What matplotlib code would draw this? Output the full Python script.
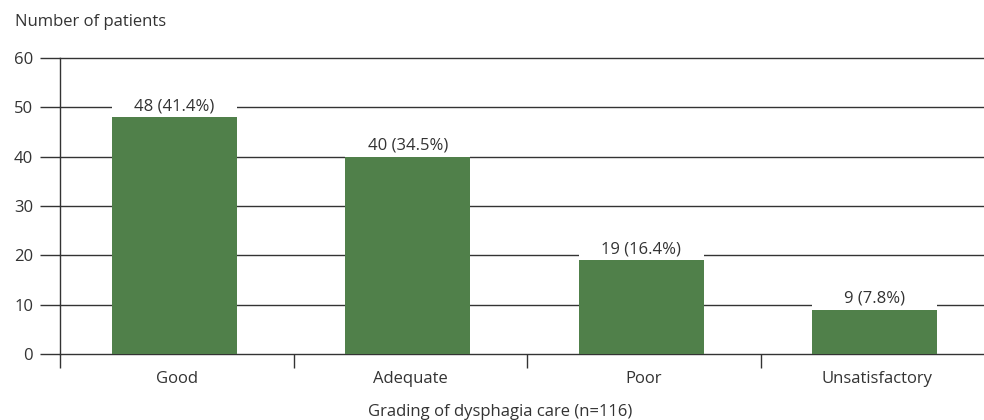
import matplotlib
matplotlib.use('Agg')
import matplotlib.pyplot as plt
import numpy as np

plt.rcParams['font.family'] = ['Open Sans', 'DejaVu Sans']

# data
categories = ['Good', 'Adequate', 'Poor', 'Unsatisfactory']
patients = [48, 40, 19, 9]
percents = [41.4, 34.5, 16.4, 7.8]

bar_color = '#50804a'
line_color = '#333333'
text_color = '#333333'
fs = 12

fig = plt.figure(figsize=(9.84, 4.2), dpi=100)
ax = fig.add_axes([60 / 984, 1 - 354 / 420, 1 - 60 / 984, (354 - 58) / 420])

x = np.arange(len(categories))
bar_w = 0.535

# gridlines
ax.set_ylim(0, 60)
ax.set_yticks(np.arange(0, 61, 10))
ax.yaxis.grid(True, color=line_color, linewidth=1.0, zorder=0)
ax.set_axisbelow(True)

ax.bar(x - 0.01, patients, width=bar_w, color=bar_color, zorder=2)
# white masks behind labels
ax.bar(x - 0.01, [4.2] * len(x), bottom=patients, width=bar_w, color='white', zorder=3)

for xi, n, p in zip(x, patients, percents):
    ax.annotate(f'{n} ({p}%)', (xi - 0.01, n), xytext=(0, 2), textcoords='offset points',
                ha='center', va='bottom', fontsize=fs, color=text_color, zorder=4)

ax.set_xlim(-0.5, -0.5 + 4 * (984 - 60) / 934)
ax.set_xticks(x)
ax.set_xticklabels(categories)
ax.set_xticks(np.arange(-0.5, 3.0, 1.0), minor=True)
ax.tick_params(axis='x', which='major', length=0, pad=12, labelsize=fs, labelcolor=text_color)
ax.tick_params(axis='x', which='minor', length=10, width=1.0, color=line_color, direction='out')
ax.tick_params(axis='y', length=14.4, width=1.0, color=line_color, pad=5,
               labelsize=fs, labelcolor=text_color)

for s in ['top', 'right', 'bottom']:
    ax.spines[s].set_visible(False)
ax.spines['left'].set_color(line_color)
ax.spines['left'].set_linewidth(1.0)

fig.canvas.draw()
for gl in ax.get_ygridlines():
    gl.set_clip_on(False)
    gl.set_zorder(2.5)

fig.text(15 / 984, 1 - 22 / 420, 'Number of patients', ha='left', va='center',
         fontsize=fs, color=text_color)
fig.text(500 / 984, 1 - 412 / 420, 'Grading of dysphagia care (n=116)', ha='center',
         va='center', fontsize=fs, color=text_color)

fig.savefig('out.png', dpi=100, facecolor='white')
